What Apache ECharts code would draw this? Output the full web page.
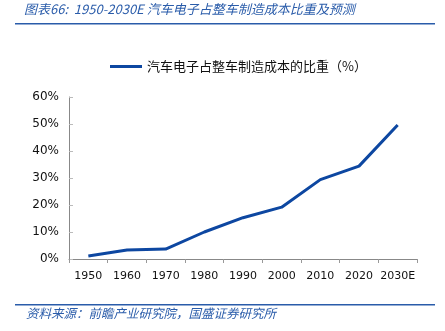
<!DOCTYPE html>
<html><head><meta charset="utf-8">
<script src="https://cdn.jsdelivr.net/npm/echarts@6/dist/echarts.min.js"></script>
<style>html,body{margin:0;padding:0;background:#fff}#c{width:445px;height:331px}</style>
</head><body><div id="c"></div>
<script>
var categories = ['1950','1960','1970','1980','1990','2000','2010','2020','2030E'];
var shareValues = [1.1, 3.3, 3.7, 10, 15.3, 19.2, 29.4, 34.4, 49.6];
var yTicks = [0, 10, 20, 30, 40, 50, 60];
var seriesName = '汽车电子占整车制造成本的比重（%）';
var titleText = '图表66:  1950-2030E 汽车电子占整车制造成本比重及预测';
var sourceText = '资料来源：前瞻产业研究院，国盛证券研究所';

var chart = echarts.init(document.getElementById('c'), null, {renderer:'canvas'});
var blue = '#0d47a1';
chart.setOption({
  animation: false,
  graphic: [
    {type:'text', left: 24, top: 3, style:{text: titleText, fill: '#2a5caa', font: 'italic 13px "Noto Sans CJK SC", sans-serif'}},
    {type:'rect', shape:{x:15, y:23, width:420, height:1.5}, style:{fill:'#2a5caa'}},
    {type:'rect', shape:{x:15, y:304, width:420, height:1.5}, style:{fill:'#2a5caa'}},
    {type:'text', left: 26, top: 307, style:{text: sourceText, fill: '#2a5caa', font: 'italic 12.5px "Noto Sans CJK SC", sans-serif'}}
  ],
  legend: {
    top: 55, left: 105,
    itemWidth: 32, itemHeight: 3, itemGap: 4,
    icon: 'rect',
    textStyle: {fontSize: 13, color: '#111', fontFamily: '"Noto Sans CJK SC", sans-serif'},
    data: [seriesName]
  },
  grid: {left: 69, right: 28, top: 97, bottom: 72},
  xAxis: {
    type: 'category', data: categories, boundaryGap: true,
    axisLine: {lineStyle: {color: '#888'}},
    axisTick: {show: true, length: 4, interval: 0, lineStyle:{color:'#999'}},
    axisLabel: {color: '#111', fontSize: 11, margin: 12, interval: 0, fontFamily: '"DejaVu Sans", sans-serif'}
  },
  yAxis: {
    type: 'value', min: yTicks[0], max: yTicks[yTicks.length-1], interval: 10,
    axisLine: {show: true, lineStyle: {color: '#888'}},
    axisTick: {show: true, length: 4, inside: true, lineStyle:{color:'#bbb'}},
    splitLine: {show: false},
    axisLabel: {color: '#111', fontSize: 12, margin: 10, formatter: '{value}%', fontFamily: '"DejaVu Sans", sans-serif'}
  },
  series: [{
    name: seriesName, type: 'line', data: shareValues,
    symbol: 'none', lineStyle: {color: blue, width: 3}, itemStyle: {color: blue}
  }]
});
</script></body></html>
